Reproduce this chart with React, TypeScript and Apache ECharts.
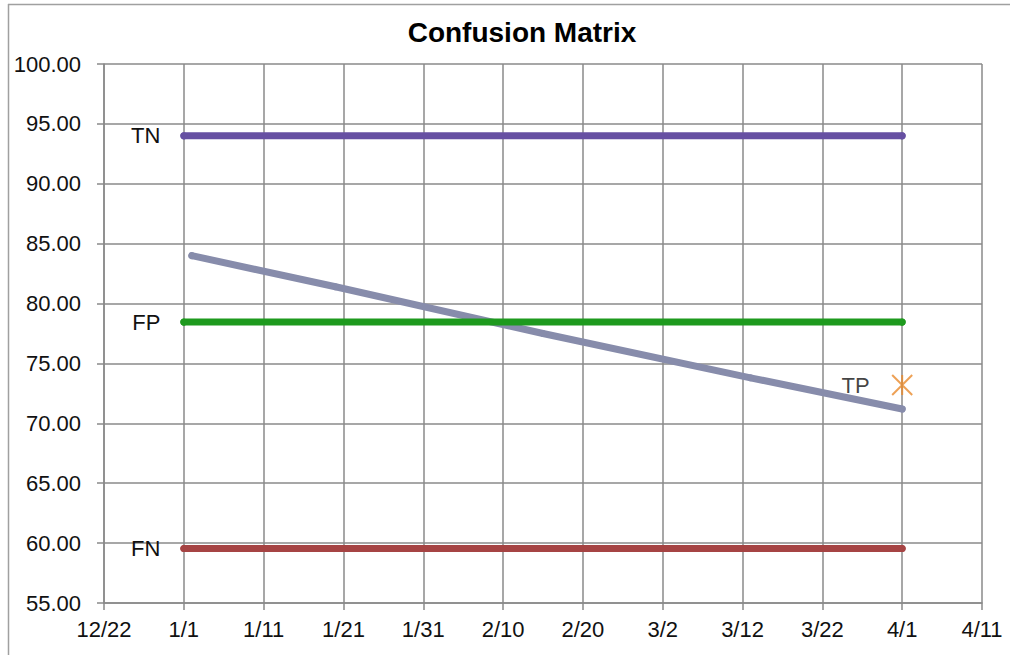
import React, { useEffect, useRef } from "react";
import * as echarts from "echarts";

// ---- data ----
const baseDate = "2017-12-22";
const xTickCount = 12; // 12/22 .. 4/11, every 10 days
const yTicks = [55, 60, 65, 70, 75, 80, 85, 90, 95, 100];

const flatDates = ["2018-01-01", "2018-04-01"];
const tnValues = [94.0, 94.0];
const fpValues = [78.45, 78.45];
const fnValues = [59.55, 59.55];

const trendDates = ["2018-01-02", "2018-01-20", "2018-02-15", "2018-03-13", "2018-04-01"];
const trendValues = [84.0, 81.4, 77.5, 73.8, 71.2];

const tpDates = ["2018-04-01"];
const tpValues = [73.2];

const DAY = 86400000;
const baseMs = Date.parse(baseDate + "T00:00:00Z");
const toDay = (d: string) => Math.round((Date.parse(d + "T00:00:00Z") - baseMs) / DAY);
const fmtDay = (v: number) => {
  const d = new Date(baseMs + v * DAY);
  return d.getUTCMonth() + 1 + "/" + d.getUTCDate();
};

const FONT = "'Liberation Sans', Arial, sans-serif";
const GRID_COLOR = "#8a8a8a";
const TEXT_COLOR = "#111111";

function flatSeries(name: string, values: number[], color: string) {
  return {
    type: "line",
    name,
    data: flatDates.map((d, i) => ({
      value: [toDay(d), values[i]],
      label:
        i === 0
          ? { show: true, formatter: name, position: "left", distance: 20 }
          : { show: false },
    })),
    symbol: "circle",
    symbolSize: 7,
    showSymbol: true,
    itemStyle: { color },
    lineStyle: { color, width: 7, cap: "round", join: "round" },
    label: { fontFamily: FONT, fontSize: 22, color: TEXT_COLOR },
    z: 3,
  };
}

export default function App() {
  const ref = useRef<HTMLDivElement>(null);
  useEffect(() => {
    if (!ref.current) return;
    const chart = echarts.init(ref.current, undefined, { renderer: "svg" });
    chart.setOption({
      animation: false,
      backgroundColor: "#ffffff",
      grid: { left: 104, right: 28, top: 64, bottom: 52, containLabel: false },
      xAxis: {
        type: "value",
        min: 0,
        max: (xTickCount - 1) * 10,
        interval: 10,
        axisLine: { show: true, lineStyle: { color: GRID_COLOR, width: 1.5 } },
        axisTick: { show: true, length: 7, lineStyle: { color: GRID_COLOR, width: 1.5 } },
        splitLine: { show: true, lineStyle: { color: GRID_COLOR, width: 1.5 } },
        axisLabel: {
          formatter: (v: number) => fmtDay(v),
          fontFamily: FONT,
          fontSize: 22,
          color: TEXT_COLOR,
          margin: 15,
        },
      },
      yAxis: {
        type: "value",
        min: yTicks[0],
        max: yTicks[yTicks.length - 1],
        interval: 5,
        axisLine: { show: true, lineStyle: { color: GRID_COLOR, width: 1.5 } },
        axisTick: { show: true, length: 7, lineStyle: { color: GRID_COLOR, width: 1.5 } },
        splitLine: { show: true, lineStyle: { color: GRID_COLOR, width: 1.5 } },
        axisLabel: {
          formatter: (v: number) => v.toFixed(2),
          fontFamily: FONT,
          fontSize: 22,
          color: TEXT_COLOR,
          margin: 23,
        },
      },
      graphic: [
        {
          type: "line",
          shape: { x1: 8, y1: 4.5, x2: 1010, y2: 4.5 },
          style: { stroke: "#a0a0a0", lineWidth: 1.5 },
        },
        {
          type: "line",
          shape: { x1: 8.5, y1: 4, x2: 8.5, y2: 655 },
          style: { stroke: "#a0a0a0", lineWidth: 1.5 },
        },
        {
          type: "text",
          x: 522,
          y: 32,
          style: {
            text: "Confusion Matrix",
            font: "bold 28px 'Liberation Sans', Arial, sans-serif",
            fill: "#000000",
            textAlign: "center",
            textVerticalAlign: "middle",
          },
        },
      ],
      series: [
        flatSeries("TN", tnValues, "#6650A2"),
        flatSeries("FP", fpValues, "#1E9A1E"),
        flatSeries("FN", fnValues, "#A64444"),
        {
          type: "line",
          name: "Trend",
          data: trendDates.map((d, i) => [toDay(d), trendValues[i]]),
          symbol: "circle",
          symbolSize: 7,
          showSymbol: true,
          itemStyle: { color: "#878CAB" },
          lineStyle: { color: "#878CAB", width: 7, cap: "round", join: "round" },
          z: 2,
        },
        {
          type: "scatter",
          name: "TP",
          data: tpDates.map((d, i) => [toDay(d), tpValues[i]]),
          symbol: "path://M0,0L20,20M20,0L0,20M10,0L10,20",
          symbolSize: 20,
          itemStyle: { color: "none", borderColor: "#E88A2A", borderWidth: 2 },
          label: {
            show: true,
            formatter: "TP",
            position: "left",
            distance: 20,
            fontFamily: FONT,
            fontSize: 22,
            color: TEXT_COLOR,
          },
          z: 4,
        },
      ],
    });
    return () => chart.dispose();
  }, []);
  return (
    <div
      ref={ref}
      style={{ position: "fixed", left: 0, top: 0, width: 1010, height: 655 }}
    />
  );
}
